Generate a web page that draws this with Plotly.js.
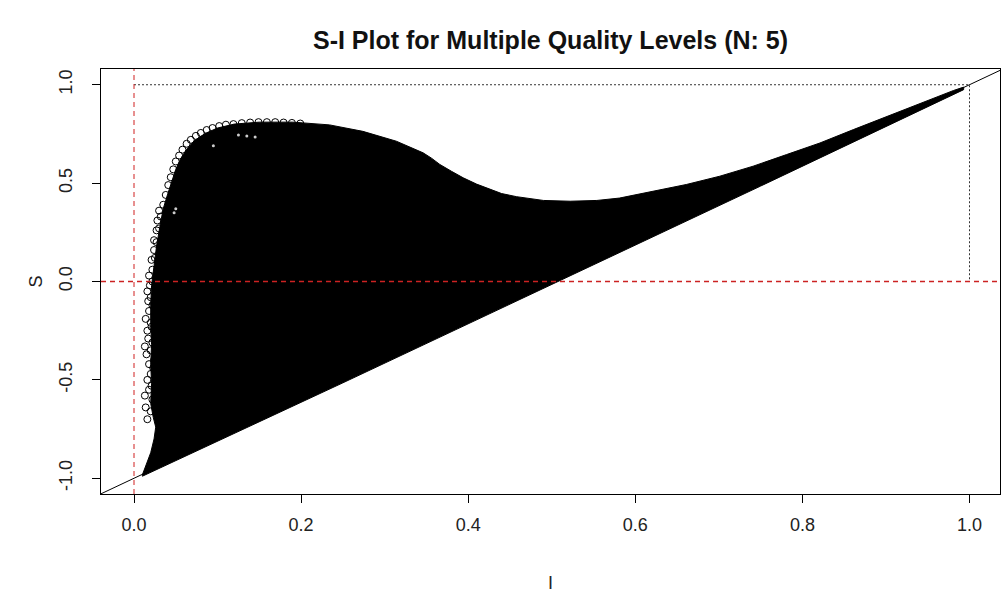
<!DOCTYPE html>
<html>
<head>
<meta charset="utf-8">
<script src="https://cdn.plot.ly/plotly-3.0.1.min.js"></script>
<style>
html,body{margin:0;padding:0;background:#fff;overflow:hidden;}
#chart{width:1001px;height:593px;}
</style>
</head>
<body>
<div id="chart"></div>
<script>
// ---- Data ----
// Upper / left envelope of the dense point cloud (I, S), from the bottom tip round to the top-right tip
const envelopeI = [0.0098, 0.0146, 0.020, 0.024, 0.026, 0.023, 0.020, 0.021, 0.020, 0.021, 0.020, 0.020, 0.021, 0.024, 0.027, 0.031, 0.035, 0.040, 0.045, 0.050, 0.056, 0.063, 0.072, 0.085, 0.10, 0.12, 0.15, 0.19, 0.234, 0.274, 0.314, 0.330, 0.346, 0.356, 0.366, 0.380, 0.394, 0.410, 0.426, 0.440, 0.458, 0.474, 0.49, 0.522, 0.554, 0.581, 0.621, 0.661, 0.701, 0.741, 0.781, 0.821, 0.861, 0.901, 0.941, 0.981, 0.993];
const envelopeS = [-0.985, -0.934, -0.870, -0.800, -0.740, -0.690, -0.620, -0.520, -0.420, -0.320, -0.220, -0.120, -0.020, 0.080, 0.180, 0.280, 0.370, 0.440, 0.510, 0.570, 0.625, 0.672, 0.715, 0.752, 0.780, 0.800, 0.810, 0.810, 0.796, 0.763, 0.713, 0.685, 0.654, 0.627, 0.595, 0.560, 0.527, 0.495, 0.468, 0.447, 0.431, 0.420, 0.412, 0.408, 0.412, 0.424, 0.459, 0.493, 0.535, 0.586, 0.645, 0.704, 0.772, 0.839, 0.907, 0.971, 0.988];
// Lower edge of the cloud (runs just along the S = 2I - 1 line), from top-right back to bottom tip
const lowerI = [0.993, 0.75, 0.50, 0.25, 0.0098];
const lowerS = [0.975, 0.485, -0.015, -0.515, -0.99];

// Individual open circles visible on the ragged left edge and along the top-left arc
const edgeI = [0.016, 0.014, 0.020, 0.013, 0.018, 0.022, 0.016, 0.020, 0.018, 0.023, 0.015, 0.013, 0.020, 0.017, 0.022, 0.016, 0.014, 0.020, 0.018, 0.017, 0.022, 0.016, 0.019, 0.018, 0.022, 0.021, 0.024, 0.024, 0.027, 0.028, 0.030, 0.024, 0.021, 0.021, 0.022, 0.020,
  0.025, 0.027, 0.030, 0.032, 0.035, 0.038, 0.041, 0.044, 0.047, 0.050, 0.054, 0.058, 0.063, 0.068, 0.074, 0.080, 0.087, 0.094, 0.102, 0.110, 0.119, 0.129, 0.139, 0.149, 0.159, 0.169, 0.179, 0.189, 0.199];
const edgeS = [-0.70, -0.64, -0.66, -0.58, -0.55, -0.60, -0.50, -0.47, -0.42, -0.44, -0.37, -0.33, -0.35, -0.29, -0.31, -0.25, -0.19, -0.21, -0.15, -0.10, -0.12, -0.05, -0.02, 0.03, 0.06, 0.11, 0.16, 0.21, 0.26, 0.31, 0.36, -0.40, -0.53, -0.23, 0.00, -0.08,
  0.12, 0.20, 0.27, 0.33, 0.39, 0.44, 0.49, 0.53, 0.57, 0.61, 0.64, 0.67, 0.70, 0.72, 0.74, 0.755, 0.77, 0.78, 0.79, 0.797, 0.80, 0.805, 0.808, 0.81, 0.81, 0.81, 0.808, 0.806, 0.803];

// Small light gaps inside the cloud
const gapI = [0.125, 0.135, 0.145, 0.050, 0.048, 0.095];
const gapS = [0.745, 0.740, 0.735, 0.370, 0.350, 0.690];

// Reference lines
const diagI = [-0.04, 1.04];          // S = 2I - 1 line across the panel
const diagS = [-1.08, 1.08];
const refI = [0];                     // red dashed vertical
const refS = [0];                     // red dashed horizontal
const boxI = [0, 1, 1];               // dotted guide: S = 1 then I = 1
const boxS = [1, 1, 0];

// Axes
const xTicks = [0, 0.2, 0.4, 0.6, 0.8, 1.0];
const xTickText = ["0.0", "0.2", "0.4", "0.6", "0.8", "1.0"];
const yTicks = [-1, -0.5, 0, 0.5, 1];
const yTickText = ["-1.0", "-0.5", "0.0", "0.5", "1.0"];

const FONT = "Liberation Sans, Arial, sans-serif";

const traces = [
  {
    x: envelopeI.concat(lowerI), y: envelopeS.concat(lowerS),
    type: "scatter", mode: "lines", fill: "toself",
    fillcolor: "#000", line: {color: "#000", width: 1},
    hoverinfo: "skip", showlegend: false
  },
  {
    x: edgeI, y: edgeS, type: "scatter", mode: "markers",
    marker: {symbol: "circle-open", size: 7, color: "#000", line: {width: 1, color: "#000"}},
    showlegend: false
  },
  {
    x: gapI, y: gapS, type: "scatter", mode: "markers",
    marker: {symbol: "circle", size: 3, color: "rgba(255,255,255,0.8)"},
    showlegend: false, hoverinfo: "skip"
  },
  {
    x: diagI, y: diagS, type: "scatter", mode: "lines",
    line: {color: "#000", width: 1}, showlegend: false, hoverinfo: "skip"
  },
  {
    x: boxI, y: boxS, type: "scatter", mode: "lines",
    line: {color: "#333", width: 1, dash: "2px,2px"}, showlegend: false, hoverinfo: "skip"
  }
];

const layout = {
  width: 1001, height: 593,
  margin: {l: 101, r: 1, t: 69, b: 99, pad: 0},
  paper_bgcolor: "#fff", plot_bgcolor: "#fff",
  font: {family: FONT, color: "#222", size: 18},
  title: {
    text: "<b>S-I Plot for Multiple Quality Levels (N: 5)</b>",
    font: {family: FONT, size: 25, color: "#111"},
    xref: "paper", x: 0.5, xanchor: "center",
    yref: "container", y: 1 - 40 / 593, yanchor: "middle"
  },
  xaxis: {
    range: [-0.0395, 1.0365], tickvals: xTicks, ticktext: xTickText,
    showgrid: false, zeroline: false,
    showline: true, mirror: true, linecolor: "#000", linewidth: 1,
    ticks: "outside", ticklen: 8, tickcolor: "#000", tickwidth: 1,
    ticklabelstandoff: 6,
    tickfont: {family: FONT, size: 18, color: "#222"},
    title: {text: "I", font: {family: FONT, size: 18, color: "#222"}, standoff: 42}
  },
  yaxis: {
    range: [-1.08, 1.08], tickvals: yTicks, ticktext: yTickText,
    tickangle: -90,
    showgrid: false, zeroline: false,
    showline: true, mirror: true, linecolor: "#000", linewidth: 1,
    ticks: "outside", ticklen: 8, tickcolor: "#000", tickwidth: 1,
    ticklabelstandoff: 13,
    tickfont: {family: FONT, size: 18, color: "#222"},
    title: {text: "S", font: {family: FONT, size: 18, color: "#222"}, standoff: 8}
  },
  shapes: [
    {type: "line", xref: "paper", x0: 0, x1: 1, yref: "y", y0: refS[0], y1: refS[0],
     line: {color: "#cc2222", width: 1.5, dash: "5px,4px"}, layer: "above"},
    {type: "line", yref: "paper", y0: 0, y1: 1, xref: "x", x0: refI[0], x1: refI[0],
     line: {color: "#d02020", width: 1, dash: "5px,4px"}, layer: "above"}
  ]
};

Plotly.newPlot("chart", traces, layout, {staticPlot: true, displayModeBar: false});
</script>
</body>
</html>
